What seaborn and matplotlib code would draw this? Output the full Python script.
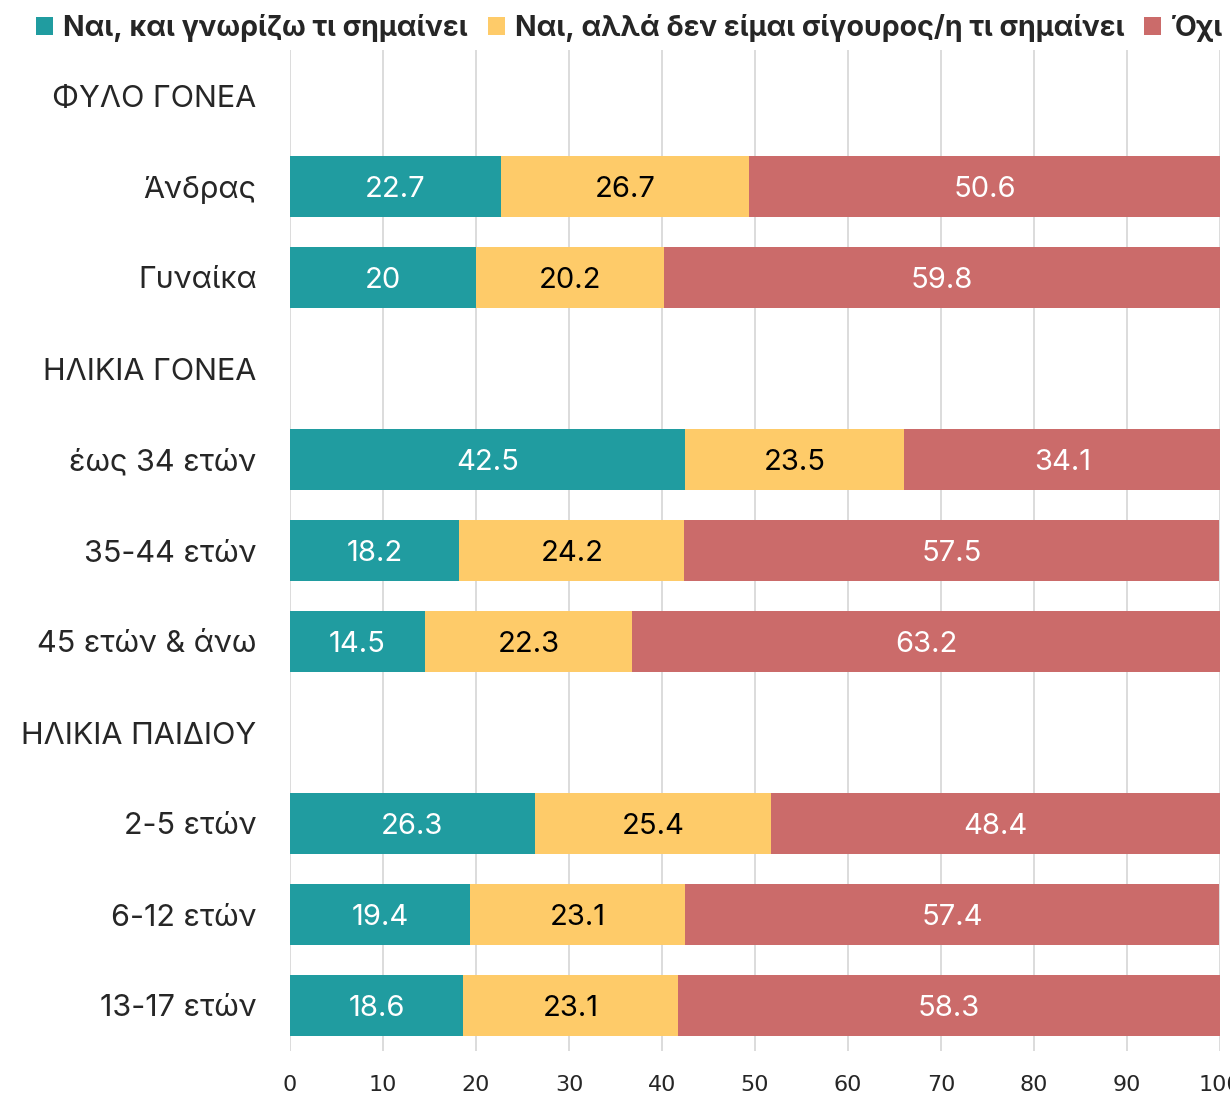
import numpy as np
import pandas as pd
import matplotlib
matplotlib.use("Agg")
import matplotlib.pyplot as plt
import seaborn as sns
from matplotlib.patches import Patch

categories = ["ΦΥΛΟ ΓΟΝΕΑ", "Άνδρας", "Γυναίκα", "ΗΛΙΚΙΑ ΓΟΝΕΑ", "έως 34 ετών",
              "35-44 ετών", "45 ετών & άνω", "ΗΛΙΚΙΑ ΠΑΙΔΙΟΥ", "2-5 ετών",
              "6-12 ετών", "13-17 ετών"]
yes_know = [np.nan, 22.7, 20.0, np.nan, 42.5, 18.2, 14.5, np.nan, 26.3, 19.4, 18.6]
yes_unsure = [np.nan, 26.7, 20.2, np.nan, 23.5, 24.2, 22.3, np.nan, 25.4, 23.1, 23.1]
no = [np.nan, 50.6, 59.8, np.nan, 34.1, 57.5, 63.2, np.nan, 48.4, 57.4, 58.3]
series_names = ["Ναι, και γνωρίζω τι σημαίνει",
                "Ναι, αλλά δεν είμαι σίγουρος/η τι σημαίνει",
                "Όχι"]
xticks = [0, 10, 20, 30, 40, 50, 60, 70, 80, 90, 100]

colors = ["#209CA0", "#FECB69", "#CB6B6A"]
text_colors = ["white", "black", "white"]

sns.set_theme(style="white")
plt.rcParams['font.family'] = ['Inter', 'DejaVu Sans']

df = pd.DataFrame({"cat": categories, "a": yes_know, "b": yes_unsure, "c": no})
df["cum_a"] = df["a"]
df["cum_b"] = df["a"] + df["b"]
df["cum_c"] = df["a"] + df["b"] + df["c"]

fig = plt.figure(figsize=(12.3, 10.95), dpi=100)
ax = fig.add_axes([290/1230, 1 - 1051/1095, 930/1230, 1001/1095])

for col, c in zip(["cum_c", "cum_b", "cum_a"], colors[::-1]):
    sns.barplot(data=df, x=col, y="cat", order=categories, color=c,
                width=0.66, ax=ax, saturation=1, edgecolor="none", zorder=3)

series_cols = ["a", "b", "c"]
cum_cols = ["cum_a", "cum_b", "cum_c"]
for i, row in df.iterrows():
    if np.isnan(row["a"]):
        continue
    for s, cc, tc in zip(series_cols, cum_cols, text_colors):
        v = row[s]
        lab = f"{v:g}"
        ax.text(row[cc] - v / 2, i, lab, ha="center", va="center_baseline",
                color=tc, fontsize=21, zorder=5)

ax.set_xlim(0, 100)
ax.set_ylim(len(categories) - 0.5, -0.5)
ax.set_xticks(xticks)
ax.set_xticklabels([str(t) for t in xticks], fontsize=16,
                   family=['Liberation Sans Narrow', 'DejaVu Sans'])
ax.xaxis.grid(True, color="#D9D9D9", linewidth=1.3, zorder=0)
ax.set_axisbelow(True)
ax.tick_params(axis="x", length=0, pad=17)
ax.tick_params(axis="y", length=0, pad=24, labelsize=22)
ax.set_xlabel("")
ax.set_ylabel("")
for sp in ax.spines.values():
    sp.set_visible(False)

handles = [Patch(facecolor=c, edgecolor="none") for c in colors]
fig.legend(handles, series_names, loc="upper left", bbox_to_anchor=(22/1230, 1.0),
           ncol=3, frameon=False, prop={"weight": "bold", "size": 20.5},
           handlelength=0.6, handleheight=0.6, handletextpad=0.35, columnspacing=0.7,
           borderaxespad=0.1)

fig.savefig("out.png", dpi=100)
